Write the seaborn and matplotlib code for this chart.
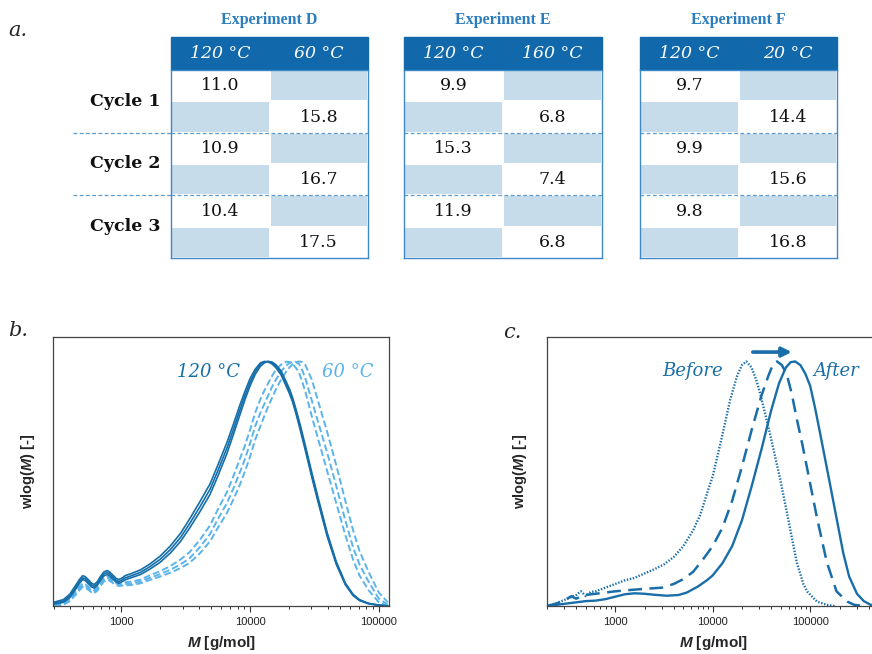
import numpy as np
import pandas as pd
import matplotlib
matplotlib.use("Agg")
import matplotlib.pyplot as plt
import matplotlib.ticker as mticker
from matplotlib.colors import ListedColormap
from matplotlib.patches import Rectangle
import seaborn as sns

# ---------------- table values ----------------
experiments = ["Experiment D", "Experiment E", "Experiment F"]
first_temps = ["120 °C", "120 °C", "120 °C"]
second_temps = ["60 °C", "160 °C", "20 °C"]
cycles = ["Cycle 1", "Cycle 2", "Cycle 3"]
exp_d_first = [11.0, 10.9, 10.4]
exp_d_second = [15.8, 16.7, 17.5]
exp_e_first = [9.9, 15.3, 11.9]
exp_e_second = [6.8, 7.4, 6.8]
exp_f_first = [9.7, 9.9, 9.8]
exp_f_second = [14.4, 15.6, 16.8]

# ---------------- panel b: MWD curves on a log10(M) grid ----------------
logm_b = [2.48, 2.55, 2.60, 2.65, 2.675, 2.70, 2.72, 2.745, 2.77, 2.79,
          2.815, 2.84, 2.865, 2.89, 2.91, 2.935, 2.96, 2.98, 3.005, 3.03,
          3.08, 3.15, 3.22, 3.30, 3.38, 3.46, 3.53, 3.61, 3.69, 3.75,
          3.82, 3.87, 3.92, 3.96, 4.00, 4.04, 4.08, 4.11, 4.14, 4.17,
          4.20, 4.24, 4.28, 4.305, 4.33, 4.355, 4.38, 4.405, 4.43, 4.48,
          4.53, 4.60, 4.67, 4.74, 4.80, 4.85, 4.92, 5.00, 5.07]
hot_cycle1 = [.012, .020, .040, .080, .100, .115, .112, .099, .085, .080,
              .092, .114, .131, .137, .131, .118, .105, .100, .106, .115,
              .124, .138, .160, .190, .230, .280, .336, .405, .478, .553,
              .645, .720, .800, .860, .915, .958, .988, .998, 1.000, .995,
              .982, .955, .910, .880, .845, .800, .750, .698, .645, .535,
              .430, .290, .175, .090, .045, .024, .010, .003, .000]
hot_cycle2 = [.016, .026, .048, .088, .108, .124, .120, .107, .093, .088,
              .100, .122, .139, .145, .139, .126, .113, .108, .114, .124,
              .133, .148, .171, .203, .245, .297, .355, .426, .500, .576,
              .668, .742, .820, .877, .930, .968, .994, 1.000, .998, .990,
              .975, .946, .900, .870, .835, .790, .740, .688, .635, .526,
              .422, .283, .170, .087, .043, .022, .009, .003, .000]
hot_cycle3 = [.008, .015, .034, .072, .092, .108, .104, .091, .078, .073,
              .085, .106, .123, .129, .123, .110, .098, .093, .099, .107,
              .116, .129, .150, .178, .216, .264, .318, .385, .457, .531,
              .623, .700, .780, .843, .900, .947, .980, .994, 1.000, .998,
              .987, .962, .918, .889, .853, .808, .760, .708, .655, .545,
              .440, .298, .181, .094, .048, .026, .011, .004, .000]
cold_cycle1 = [.004, .012, .030, .062, .079, .092, .089, .079, .067, .064,
               .076, .096, .113, .121, .116, .106, .098, .094, .095, .097,
               .100, .108, .125, .142, .163, .190, .220, .270, .330, .395,
               .465, .530, .600, .655, .720, .790, .845, .880, .910, .940,
               .965, .987, .999, .998, .990, .975, .955, .918, .875, .775,
               .680, .550, .420, .290, .190, .125, .065, .015, .000]
cold_cycle2 = [.000, .008, .025, .055, .072, .085, .082, .072, .061, .058,
               .070, .090, .107, .115, .110, .100, .092, .088, .089, .090,
               .092, .100, .115, .130, .148, .170, .195, .240, .295, .355,
               .420, .480, .545, .600, .665, .735, .790, .825, .860, .895,
               .925, .958, .983, .993, .998, .998, .990, .965, .930, .840,
               .750, .625, .490, .350, .240, .170, .100, .030, .005]
cold_cycle3 = [.000, .005, .020, .048, .064, .078, .075, .066, .055, .052,
               .063, .083, .100, .108, .103, .094, .086, .082, .083, .084,
               .086, .093, .106, .120, .136, .155, .176, .215, .265, .320,
               .380, .435, .495, .550, .610, .680, .735, .775, .815, .850,
               .885, .925, .958, .975, .988, .996, 1.000, .997, .985, .925,
               .835, .710, .575, .430, .310, .225, .140, .055, .015]

# ---------------- panel c: before / after ----------------
before_logm = [2.30, 2.40, 2.50, 2.60, 2.65, 2.70, 2.75, 2.80, 2.90, 3.00, 3.10, 3.20,
               3.30, 3.40, 3.50, 3.60, 3.70, 3.80, 3.87, 3.95, 4.00, 4.08, 4.18, 4.25,
               4.30, 4.345, 4.40, 4.45, 4.49, 4.59, 4.69, 4.78, 4.86, 4.93, 4.97, 5.07,
               5.17, 5.25]
before_w = [0.000, 0.012, 0.028, 0.045, 0.060, 0.040, 0.058, 0.060, 0.075, 0.090, 0.105, 0.115,
            0.133, 0.150, 0.170, 0.200, 0.245, 0.310, 0.370, 0.470, 0.530, 0.665, 0.844, 0.940,
            0.985, 1.000, 0.975, 0.920, 0.865, 0.700, 0.523, 0.345, 0.182, 0.090, 0.059, 0.018,
            0.005, 0.000]
middle_logm = [2.30, 2.40, 2.50, 2.55, 2.60, 2.69, 2.80, 2.90, 3.00, 3.17, 3.30, 3.48,
               3.60, 3.70, 3.80, 3.90, 4.00, 4.10, 4.20, 4.30, 4.40, 4.50, 4.57, 4.62,
               4.66, 4.71, 4.76, 4.81, 4.86, 4.92, 4.97, 5.07, 5.17, 5.27, 5.38, 5.45,
               5.55]
middle_w = [0.000, 0.010, 0.028, 0.040, 0.030, 0.045, 0.050, 0.055, 0.060, 0.066, 0.070, 0.075,
            0.090, 0.110, 0.140, 0.190, 0.245, 0.320, 0.430, 0.570, 0.720, 0.860, 0.940, 0.990,
            1.000, 0.985, 0.947, 0.870, 0.770, 0.660, 0.560, 0.360, 0.180, 0.060, 0.018, 0.005,
            0.000]
after_logm = [2.30, 2.40, 2.50, 2.60, 2.70, 2.80, 2.90, 3.00, 3.10, 3.20, 3.30, 3.40,
              3.53, 3.65, 3.735, 3.85, 3.94, 4.00, 4.10, 4.20, 4.30, 4.40, 4.50, 4.60,
              4.68, 4.75, 4.80, 4.846, 4.90, 4.95, 5.00, 5.05, 5.10, 5.20, 5.27, 5.34,
              5.40, 5.48, 5.55, 5.62, 5.68]
after_w = [0.000, 0.005, 0.010, 0.015, 0.020, 0.022, 0.028, 0.038, 0.048, 0.052, 0.050, 0.046,
           0.042, 0.045, 0.055, 0.080, 0.105, 0.125, 0.175, 0.245, 0.350, 0.490, 0.640, 0.800,
           0.910, 0.975, 0.997, 1.000, 0.985, 0.950, 0.900, 0.810, 0.710, 0.505, 0.360, 0.215,
           0.120, 0.050, 0.020, 0.005, 0.000]

# ---------------- style ----------------
sns.set_style("ticks")
plt.rcParams["font.family"] = ["DejaVu Serif", "DejaVu Sans"]
plt.rcParams["mathtext.fontset"] = "custom"
plt.rcParams["mathtext.rm"] = "Liberation Sans:bold"
plt.rcParams["mathtext.it"] = "Liberation Sans:italic:bold"

HEAD_BLUE = "#1168aa"
TITLE_BLUE = "#2a7dbe"
CELL_BLUE = "#c6dcea"
EDGE_BLUE = "#3d88c6"
SEP_BLUE = "#5b9bd0"
DARK_LINE = "#166ea9"
LIGHT_LINE = "#5ab4eb"
C_LINE = "#196eaa"

W, H = 872, 654
fig = plt.figure(figsize=(W / 100, H / 100), dpi=100)


def px_box(x0, y0, x1, y1):
    return [x0 / W, 1 - y1 / H, (x1 - x0) / W, (y1 - y0) / H]


# overlay in pixel units for panel a decorations and panel letters
ov = fig.add_axes([0, 0, 1, 1])
ov.set_xlim(0, W)
ov.set_ylim(H, 0)
ov.axis("off")

ov.text(8, 30, "a.", fontsize=15, style="italic", va="center", ha="left")
ov.text(8, 330, "b.", fontsize=15, style="italic", va="center", ha="left")
ov.text(503, 332, "c.", fontsize=15, style="italic", va="center", ha="left")

# ---------------- panel a: tables ----------------
table_x = [(171, 368), (404, 602), (640, 837)]
body_top, body_bot, head_top = 70, 258, 37
row_h = (body_bot - body_top) / 6
firsts = [exp_d_first, exp_e_first, exp_f_first]
seconds = [exp_d_second, exp_e_second, exp_f_second]

for i, name in enumerate(cycles):
    yc = body_top + row_h * (2 * i + 1)
    ov.text(125, yc, name, fontsize=12.5, fontweight="bold", ha="center",
            va="center", color="#111111")
for k in (2, 4):
    ov.plot([73, 171], [body_top + k * row_h] * 2, color=SEP_BLUE, lw=0.9,
            ls=(0, (3, 2)))

cmap = ListedColormap([CELL_BLUE, "white"])
for (x0, x1), title, t1, t2, v1, v2 in zip(table_x, experiments, first_temps,
                                           second_temps, firsts, seconds):
    xm = (x0 + x1) / 2
    ov.text(xm, 20, title, fontsize=11.5, fontweight="bold", color=TITLE_BLUE,
            family="Liberation Serif", ha="center", va="center")
    ov.add_patch(Rectangle((x0, head_top), x1 - x0, body_top - head_top,
                           facecolor=HEAD_BLUE, edgecolor=HEAD_BLUE, lw=1))
    ov.text((x0 + xm) / 2, (head_top + body_top) / 2, t1, fontsize=12.5,
            style="italic", color="white", ha="center", va="center")
    ov.text((xm + x1) / 2, (head_top + body_top) / 2, t2, fontsize=12.5,
            style="italic", color="white", ha="center", va="center")

    vals = np.full((6, 2), np.nan)
    vals[0::2, 0] = v1
    vals[1::2, 1] = v2
    filled = ~np.isnan(vals)
    labels = np.where(filled, np.vectorize(lambda v: f"{v:.1f}")(np.nan_to_num(vals)), "")
    frame = pd.DataFrame(filled.astype(float))

    ax_t = fig.add_axes(px_box(x0, body_top, x1, body_bot))
    sns.heatmap(frame, ax=ax_t, cmap=cmap, vmin=0, vmax=1, cbar=False,
                annot=labels, fmt="", linewidths=1.2, linecolor="white",
                xticklabels=False, yticklabels=False,
                annot_kws={"fontsize": 12.5, "color": "#111111",
                           "family": "DejaVu Serif"})
    for k in (2, 4):
        ax_t.axhline(k, color=SEP_BLUE, lw=0.9, ls=(0, (3, 2)))
    for s in ax_t.spines.values():
        s.set_visible(True)
        s.set_color(EDGE_BLUE)
        s.set_linewidth(1.0)
    ax_t.tick_params(left=False, bottom=False)


# ---------------- panels b and c ----------------
def style_mwd(ax, xlim):
    ax.set_xscale("log")
    ax.set_xlim(*xlim)
    ax.set_ylim(0, 1.1)
    ax.set_yticks([])
    ax.xaxis.set_major_locator(mticker.FixedLocator([1000, 10000, 100000]))
    ax.xaxis.set_major_formatter(mticker.FuncFormatter(lambda v, _: f"{v:.0f}"))
    ax.xaxis.set_minor_locator(mticker.LogLocator(base=10, subs=np.arange(2, 10)))
    ax.xaxis.set_minor_formatter(mticker.NullFormatter())
    ax.tick_params(axis="x", which="major", direction="out", length=4, width=0.8,
                   labelsize=8, pad=4, colors="#333333", labelcolor="#222222",
                   labelfontfamily="Liberation Sans")
    ax.tick_params(axis="x", which="minor", direction="out", length=2.5, width=0.7,
                   colors="#333333")
    for s in ax.spines.values():
        s.set_visible(True)
        s.set_color("#444444")
        s.set_linewidth(0.9)
    ax.set_xlabel(r"$\mathit{M}$ [g/mol]", fontsize=11, fontweight="bold",
                  family="Liberation Sans")
    ax.set_ylabel(r"wlog($\mathit{M}$) [-]", fontsize=10.5, fontweight="bold",
                  family="Liberation Sans")
    ax.xaxis.set_label_coords(0.5, -0.105)


label_box = dict(boxstyle="square,pad=0.15", facecolor="white", edgecolor="none")

# panel b
ax_b = fig.add_axes(px_box(53, 337, 389, 606))
mb = 10 ** np.array(logm_b)
for ys in (cold_cycle1, cold_cycle2, cold_cycle3):
    sns.lineplot(x=mb, y=ys, ax=ax_b, color=LIGHT_LINE, lw=1.4,
                 linestyle=(0, (3.5, 1.6)), sort=False, estimator=None)
for ys in (hot_cycle1, hot_cycle2, hot_cycle3):
    sns.lineplot(x=mb, y=ys, ax=ax_b, color=DARK_LINE, lw=1.2,
                 sort=False, estimator=None)
style_mwd(ax_b, (295, 120000))
ax_b.yaxis.set_label_coords(-0.048, 0.5)
ax_b.text(0.464, 0.87, "120 °C", transform=ax_b.transAxes, fontsize=13,
          style="italic", color=DARK_LINE, ha="center", va="center", bbox=label_box)
ax_b.text(0.878, 0.87, "60 °C", transform=ax_b.transAxes, fontsize=13,
          style="italic", color=LIGHT_LINE, ha="center", va="center", bbox=label_box)

# panel c
ax_c = fig.add_axes(px_box(547, 337, 880, 606))
sns.lineplot(x=10 ** np.array(before_logm), y=before_w, ax=ax_c, color=C_LINE,
             lw=1.7, linestyle=(0, (0.6, 0.7)), sort=False, estimator=None)
sns.lineplot(x=10 ** np.array(middle_logm), y=middle_w, ax=ax_c, color=C_LINE,
             lw=1.8, linestyle=(0, (5.5, 3)), sort=False, estimator=None)
sns.lineplot(x=10 ** np.array(after_logm), y=after_w, ax=ax_c, color=C_LINE,
             lw=1.7, sort=False, estimator=None)
style_mwd(ax_c, (200, 520000))
ax_c.yaxis.set_label_coords(-0.055, 0.5)
ax_c.text(0.438, 0.874, "Before", transform=ax_c.transAxes, fontsize=13,
          style="italic", color=C_LINE, ha="center", va="center", bbox=label_box)
ax_c.text(0.869, 0.874, "After", transform=ax_c.transAxes, fontsize=13,
          style="italic", color=C_LINE, ha="center", va="center", bbox=label_box)
ax_c.annotate("", xy=(0.735, 0.944), xytext=(0.618, 0.944),
              xycoords="axes fraction", textcoords="axes fraction",
              arrowprops=dict(arrowstyle="-|>", color=C_LINE, lw=2.6,
                              mutation_scale=14, shrinkA=0, shrinkB=0))

fig.savefig("out.png", dpi=100)
